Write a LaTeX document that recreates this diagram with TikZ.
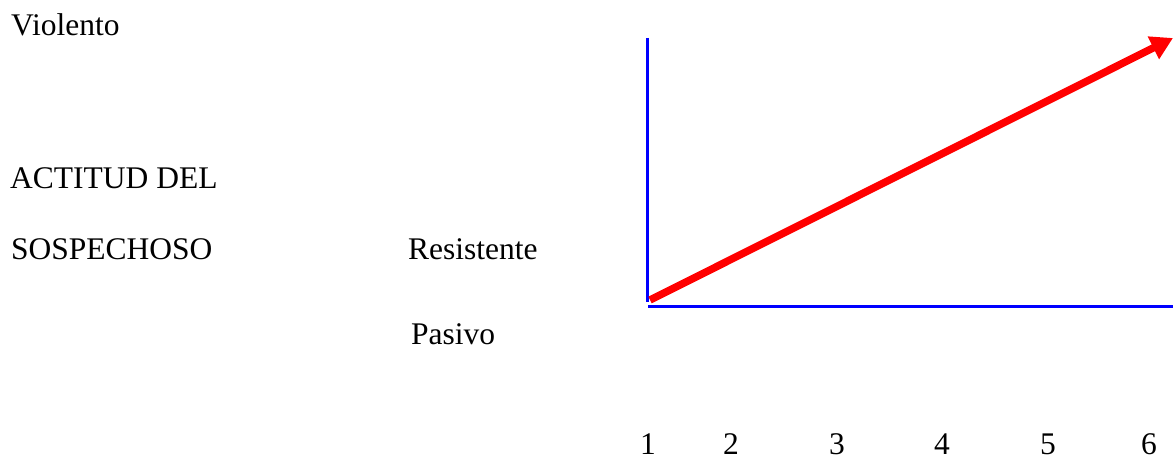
\documentclass[tikz,border=0pt]{standalone}
\usepackage{fontspec}
\setmainfont{Liberation Serif}
\usetikzlibrary{arrows.meta, positioning}
\usepackage{xcolor}
\definecolor{AxisBlue}{HTML}{0000FF}
\definecolor{TrendRed}{HTML}{FF0000}
\tikzset{
    % Text styles
    label/.style={
        inner sep=0pt,
        anchor=base west,
        font=\fontsize{31.5}{36}\selectfont
    },
    tick/.style={
        inner sep=0pt,
        anchor=base,
        font=\fontsize{31.5}{36}\selectfont
    },
    % Line styles
    axis/.style={
        line width=3pt,
        draw=AxisBlue
    },
    trend/.style={
        -{Triangle[length=22pt, width=24pt]},
        line width=7.5pt,
        draw=TrendRed
    }
}
\begin{document}
\begin{tikzpicture}[x=1pt, y=-1pt]
    \useasboundingbox (0,0) rectangle (1173,460);

    % Labels on the left
    \node[label] (violento) at (11,36) {Violento};
    \node[label] (actitud) at (10,188) {ACTITUD DEL};
    \node[label] (sospechoso) at (11,259) {SOSPECHOSO};
    \node[label] (resistente) at (408,259) {Resistente};
    \node[label] (pasivo) at (411,344) {Pasivo};

    % Scale along the bottom
    \node[tick] (t1) at (648,454) {1};
    \node[tick] (t2) at (731,454) {2};
    \node[tick] (t3) at (837,454) {3};
    \node[tick] (t4) at (942,454) {4};
    \node[tick] (t5) at (1048,454) {5};
    \node[tick] (t6) at (1149,454) {6};

    % Axes
    \coordinate (ytop) at (647,38);
    \coordinate (ybot) at (647,302);
    \coordinate (xleft) at (648,306);
    \coordinate (xright) at (1173,306);
    \draw[axis] (ytop) -- (ybot);
    \draw[axis] (xleft) -- (xright);

    % Trend arrow
    \coordinate (start) at (650,300);
    \coordinate (tip) at (1173,38);
    \draw[trend] (start) -- (tip);
\end{tikzpicture}
\end{document}
